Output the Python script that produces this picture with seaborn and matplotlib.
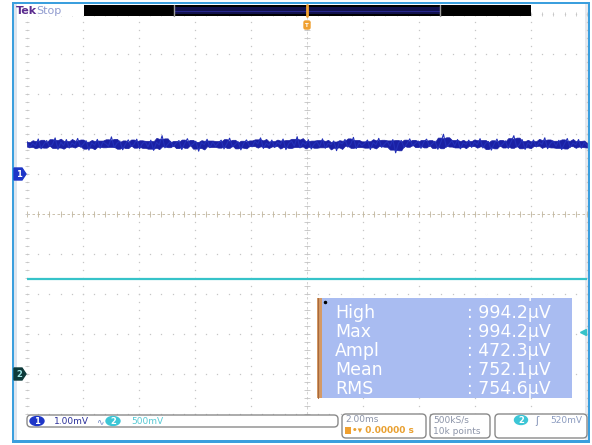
"""Tek scope screenshot: CH1 noise trace + CH2 level, with measurement readout."""
import matplotlib
matplotlib.use("Agg")
import matplotlib.pyplot as plt
from matplotlib.patches import Rectangle, Polygon, Ellipse, FancyBboxPatch
import seaborn as sns
import numpy as np
import pandas as pd

sns.set_theme(style="white")
plt.rcParams["font.family"] = ["DejaVu Sans"]

# ---- data ----
ch1_uV = [
    812, 655, 768, 702, 874, 631, 749, 836, 688, 731, 902, 617, 794, 709, 861, 648, 776, 724, 889, 672,
    745, 833, 598, 781, 719, 866, 642, 803, 757, 694, 928, 661, 772, 825, 606, 748, 853, 689, 737, 871,
    629, 764, 812, 678, 845, 591, 793, 726, 958, 655, 741, 818, 684, 770, 837, 612, 759, 883, 701, 744,
    820, 571, 786, 732, 869, 658, 802, 693, 776, 845, 627, 754, 896, 680, 739, 811, 603, 767, 852, 711,
    681, 827, 752, 903, 638, 771, 716, 848, 663, 795, 741, 874, 609, 760, 822, 697, 933, 652, 786, 729,
    858, 624, 747, 811, 690, 879, 645, 768, 734, 826, 584, 797, 752, 864, 673, 740, 915, 636, 781, 708,
    763, 849, 612, 789, 726, 892, 667, 743, 818, 695, 861, 530, 774, 838, 659, 752, 879, 703, 766, 827,
    642, 795, 871, 688, 756, 820, 617, 779, 994, 671, 748, 836, 701, 862, 628, 783, 739, 847, 665, 800,
    733, 884, 650, 769, 812, 597, 751, 873, 686, 744, 829, 639, 797, 958, 672, 735, 858, 614, 782, 720,
    851, 676, 790, 741, 905, 632, 766, 818, 698, 843, 611, 757, 887, 664, 774, 729, 862, 645, 793, 711,
]
ch2_V = [1.19, 1.19]            # flat level on channel 2
ch1_scale_mV = 1.00             # per division
ch2_scale_V = 0.5
ch1_offset_div = 1.0            # marker positions
ch2_offset_div = -4.0
trig_level_V = 0.52
time_per_div_ms = 2.0

meas_names = ["High", "Max", "Ampl", "Mean", "RMS"]
meas_vals = ["994.2µV", "994.2µV", "472.3µV", "752.1µV", "754.6µV"]

# ---- scaled to divisions ----
t1 = np.linspace(-5 * time_per_div_ms, 5 * time_per_div_ms, len(ch1_uV))
df1 = pd.DataFrame({"t": t1, "y": ch1_offset_div + np.array(ch1_uV) / 1000 / ch1_scale_mV})
# dense core of the trace (what the screen shows as solid)
roll = df1["y"].rolling(5, center=True, min_periods=1)
df1["lo"] = roll.quantile(0.12)
df1["hi"] = roll.quantile(0.88)
df2 = pd.DataFrame({"t": [-10, 10], "y": ch2_offset_div + np.array(ch2_V) / ch2_scale_V})

W, H = 592, 445
fig = plt.figure(figsize=(W / 100, H / 100), dpi=100)
fig.patch.set_facecolor("white")

bg = fig.add_axes([0, 0, 1, 1], zorder=0)
bg.set_xlim(0, W); bg.set_ylim(H, 0); bg.axis("off")

ax = fig.add_axes([27 / W, 31 / H, 560 / W, 400 / H], zorder=2)
ax.set_facecolor("none")
ax.set_xlim(-10, 10); ax.set_ylim(-5, 5)
ax.set_xticks([]); ax.set_yticks([])
for s in ax.spines.values():
    s.set_visible(False)

ov = fig.add_axes([0, 0, 1, 1], zorder=3)
ov.set_xlim(0, W); ov.set_ylim(H, 0); ov.axis("off"); ov.patch.set_visible(False)

# outer frame
bg.add_patch(Rectangle((14, 4), 3, 436, color="#dde5ef", lw=0))
bg.add_patch(Rectangle((585, 4), 2.5, 436, color="#e6e9ee", lw=0))
for (x0, y0, w, h) in [(11.5, 2, 2.5, 440), (587.5, 2, 2.5, 440), (11.5, 2, 578, 2), (11.5, 440, 578, 2.5)]:
    bg.add_patch(Rectangle((x0, y0), w, h, color="#3b9fde", lw=0))

# graticule
grid = "#c6c6c6"
xs_min = np.arange(-10, 10.01, 0.4)
ys_min = np.arange(-5, 5.01, 0.2)
for gy in range(-5, 6):
    ax.plot(xs_min, [gy] * len(xs_min), ls="none", marker="s", ms=0.9, mew=0, color=grid)
for gx in range(-10, 11, 2):
    ax.plot([gx] * len(ys_min), ys_min, ls="none", marker="s", ms=0.9, mew=0, color=grid)
tan = "#c2b79f"
ax.axhline(0, color=tan, lw=0.6, ls=(0, (3, 3)))
ax.axvline(0, color="#cccccc", lw=0.6, ls=(0, (3, 3)))
ax.plot(xs_min, [0] * len(xs_min), ls="none", marker="|", ms=4, mew=0.6, color=tan)
ax.plot([0] * len(ys_min), ys_min, ls="none", marker="_", ms=4, mew=0.6, color="#c4c4c4")
ax.plot([-10] * len(ys_min), ys_min, ls="none", marker="_", ms=3.5, mew=0.6, color=grid, clip_on=False)
ax.plot(xs_min, [5] * len(xs_min), ls="none", marker="|", ms=3.5, mew=0.6, color=grid, clip_on=False)

# traces
sns.lineplot(data=df2, x="t", y="y", ax=ax, color="#36c3c9", lw=1.6, zorder=4)
ax.fill_between(df1["t"], df1["lo"], df1["hi"], color="#1a20a4", lw=0.5, zorder=5)
sns.lineplot(data=df1, x="t", y="y", ax=ax, color="#2330b8", lw=0.8, zorder=6,
             estimator=None, sort=False)
ax.set_xlabel(""); ax.set_ylabel("")

# trigger level arrow at right edge
ax.plot([9.85], [ch2_offset_div + trig_level_V / ch2_scale_V], marker="<", ms=5,
        color="#36c3c9", clip_on=False, zorder=6)

# channel markers
ov.add_patch(Polygon([(14, 168), (22, 168), (26, 174), (22, 180), (14, 180)], color="#1e36c8"))
ov.text(19, 174.5, "1", color="white", fontsize=6, fontweight="bold", ha="center", va="center")
ov.add_patch(Polygon([(14, 368), (22, 368), (26, 374), (22, 380), (14, 380)], color="#0d3a3a"))
ov.text(19, 374.5, "2", color="#9ee6e6", fontsize=6, fontweight="bold", ha="center", va="center")

# top status bar
ov.add_patch(Rectangle((17, 4), 67, 12, color="white", lw=0))
ov.text(16, 10.5, "Tek", color="#5b2c8f", fontsize=8, fontweight="bold", va="center")
ov.text(36, 10.5, "Stop", color="#909bcf", fontsize=8, va="center")
ov.add_patch(Rectangle((84, 5), 447, 11, color="black", lw=0))
ov.add_patch(Rectangle((174, 7), 266, 7, color="#10104a", lw=0))
ov.plot([174, 440], [10.5, 10.5], color="#26268c", lw=0.8)
ov.plot([174, 174], [5, 16], color="#9a9a9a", lw=1)
ov.plot([440, 440], [5, 16], color="#9a9a9a", lw=1)
ov.plot([307, 307], [5, 16], color="#f0a030", lw=2)
ov.add_patch(FancyBboxPatch((304, 21), 6, 8, boxstyle="round,pad=0,rounding_size=1.5", color="#f0a030"))
ov.text(307, 25.5, "T", color="white", fontsize=4, fontweight="bold", ha="center", va="center")

# measurement box
box = Rectangle((321, 298), 251, 100, color="#a9bcf1", lw=0)
ov.add_patch(box)
ov.add_patch(Rectangle((317, 298), 4.5, 100, color="#d59a66", lw=0))
ov.plot([317.5, 317.5], [298, 398], color="#a86a3e", lw=0.8)
ov.plot([325], [302], marker="o", ms=1.5, color="black")
for txt, xx in [("Low", 335), (": 521.9µV", 467)]:
    t = ov.text(xx, 292, txt, color="white", fontsize=12.5, va="center")
    t.set_clip_path(box)
for i, (n, v) in enumerate(zip(meas_names, meas_vals)):
    yy = 313 + i * 19
    ov.text(335, yy, n, color="white", fontsize=12.5, va="center")
    ov.text(467, yy, ": " + v, color="white", fontsize=12.5, va="center")

# bottom readouts
def rbox(x0, y0, w, h):
    ov.add_patch(FancyBboxPatch((x0, y0), w, h, boxstyle="round,pad=0,rounding_size=4",
                                facecolor="white", edgecolor="#8a8a8a", lw=1))

rbox(27, 415, 311, 12)
rbox(342, 414, 84, 24)
rbox(430, 414, 60, 24)
rbox(495, 414, 92, 24)
ov.add_patch(Ellipse((37, 421), 14, 9, color="#1e36c8"))
ov.text(37, 421.5, "1", color="white", fontsize=6, fontweight="bold", ha="center", va="center")
ov.text(54, 421.5, "1.00mV", color="#2a2f9a", fontsize=6.5, va="center")
ov.text(96, 421.5, "∿", color="#6b86c4", fontsize=6.5, va="center")
ov.add_patch(Ellipse((113, 421), 14, 9, color="#3cc6d6"))
ov.text(113, 421.5, "2", color="white", fontsize=6, fontweight="bold", ha="center", va="center")
ov.text(131, 421.5, "500mV", color="#56c9d4", fontsize=6.5, va="center")

ov.text(345, 420, "2.00ms", color="#8c94a8", fontsize=6.5, va="center")
ov.add_patch(Rectangle((345, 427), 6, 7, color="#f0a030", lw=0))
ov.text(352, 430.5, "•▾ 0.00000 s", color="#e9a030", fontsize=6.5, fontweight="bold", va="center")
ov.text(433, 420, "500kS/s", color="#8c94a8", fontsize=6.5, va="center")
ov.text(433, 431, "10k points", color="#8c94a8", fontsize=6.5, va="center")
ov.add_patch(Ellipse((521, 420), 13, 9, color="#3cc6d6"))
ov.text(521, 420.5, "2", color="white", fontsize=6, fontweight="bold", ha="center", va="center")
ov.text(535, 420.5, "ʃ", color="#7f8fb5", fontsize=7, va="center")
ov.text(550, 420.5, "520mV", color="#8c9cc0", fontsize=6.5, va="center")

fig.savefig("out.png", dpi=100)
plt.close(fig)
